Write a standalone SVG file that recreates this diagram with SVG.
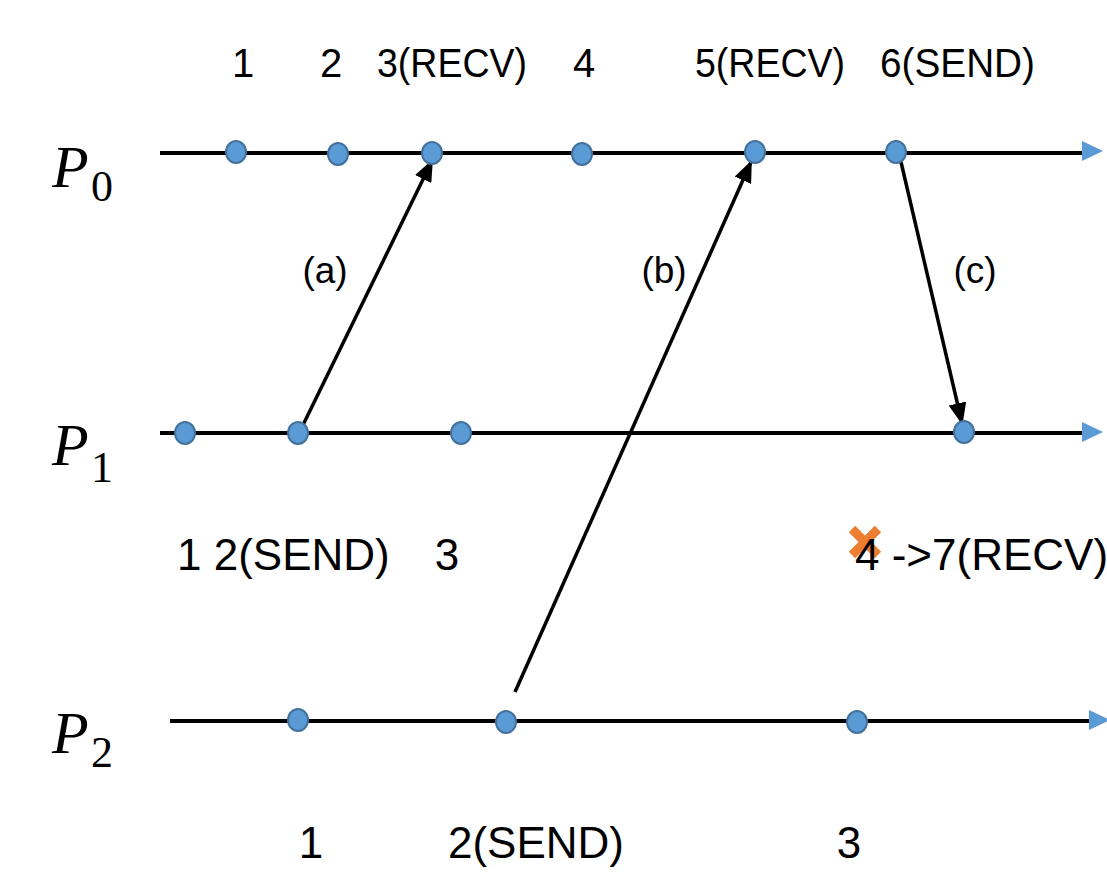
<svg xmlns="http://www.w3.org/2000/svg" width="1107" height="876" viewBox="0 0 1107 876">
<style>
.tl{stroke:#000;stroke-width:4;fill:none}
.dot{fill:#5B9BD5;stroke:#41719C;stroke-width:2}
.msg{stroke:#000;stroke-width:3.5;fill:none;marker-end:url(#ah)}
.t{font-family:"Liberation Sans","Open Sans",sans-serif;font-size:40px;fill:#000}
.t2{font-family:"Liberation Sans","Open Sans",sans-serif;font-size:44px;fill:#000}
.lb{font-family:"Liberation Sans","Open Sans",sans-serif;font-size:37px;fill:#000;text-anchor:middle}
.p{font-family:"Liberation Serif","DejaVu Serif",serif;font-style:italic;font-size:60px;fill:#000}
.s{font-family:"Liberation Serif","DejaVu Serif",serif;font-size:44px;fill:#000}
.bt{fill:#5B9BD5}
</style>
<defs>
<marker id="ah" viewBox="0 0 22 18" refX="20" refY="9" markerWidth="22" markerHeight="18" orient="auto" markerUnits="userSpaceOnUse">
<path d="M0,0 L22,9 L0,18 z" fill="#000"/>
</marker>
<linearGradient id="fade" x1="0" x2="1" y1="0" y2="0">
<stop offset="0" stop-color="#5B9BD5" stop-opacity="0"/>
<stop offset="1" stop-color="#5B9BD5"/>
</linearGradient>
</defs>
<g id="timelines">
<line class="tl" x1="160" y1="153" x2="1090" y2="153"/>
<line x1="1050" y1="152" x2="1090" y2="152" stroke="url(#fade)" stroke-width="3"/>
<path class="bt" d="M1082,141 L1103,151 L1082,161 z"/>
<line class="tl" x1="160" y1="433" x2="1090" y2="433"/>
<line x1="1050" y1="432" x2="1090" y2="432" stroke="url(#fade)" stroke-width="3"/>
<path class="bt" d="M1082,422 L1103,432 L1082,442 z"/>
<line class="tl" x1="170" y1="721" x2="1095" y2="721"/>
<line x1="1055" y1="720" x2="1095" y2="720" stroke="url(#fade)" stroke-width="3"/>
<path class="bt" d="M1089,710 L1110,720 L1089,730 z"/>
</g>
<g id="P0">
<text class="p" x="52" y="187">P</text><text class="s" x="91" y="201">0</text>
</g>
<g id="P1">
<text class="p" x="52" y="465">P</text><text class="s" x="91" y="482">1</text>
</g>
<g id="P2">
<text class="p" x="52" y="753">P</text><text class="s" x="91" y="767">2</text>
</g>
<g id="connectors">
<line class="msg" x1="303" y1="425" x2="432" y2="161"/>
<line class="msg" x1="515" y1="692" x2="751" y2="162"/>
<line class="msg" x1="901" y1="162" x2="962" y2="423"/>
<text class="lb" x="325" y="283">(a)</text>
<text class="lb" x="664" y="283">(b)</text>
<text class="lb" x="975" y="283">(c)</text>
</g>
<g id="p0-events">
<ellipse class="dot" cx="236" cy="152" rx="10" ry="11"/>
<ellipse class="dot" cx="338" cy="154" rx="10" ry="11"/>
<ellipse class="dot" cx="432" cy="153" rx="10" ry="11"/>
<ellipse class="dot" cx="582" cy="154" rx="10" ry="11"/>
<ellipse class="dot" cx="755" cy="152" rx="10" ry="11"/>
<ellipse class="dot" cx="896" cy="152" rx="10" ry="11"/>
<text class="t" x="243" y="77" text-anchor="middle">1</text>
<text class="t" x="331" y="77" text-anchor="middle">2</text>
<text class="t" x="377" y="77" textLength="150" lengthAdjust="spacingAndGlyphs">3(RECV)</text>
<text class="t" x="584" y="77" text-anchor="middle">4</text>
<text class="t" x="695" y="77" textLength="150" lengthAdjust="spacingAndGlyphs">5(RECV)</text>
<text class="t" x="880" y="77" textLength="155" lengthAdjust="spacingAndGlyphs">6(SEND)</text>
</g>
<g id="p1-events">
<ellipse class="dot" cx="185" cy="433" rx="10" ry="11"/>
<ellipse class="dot" cx="298" cy="433" rx="10" ry="11"/>
<ellipse class="dot" cx="461" cy="433" rx="10" ry="11"/>
<ellipse class="dot" cx="964" cy="432" rx="10" ry="11"/>
<text class="t2" x="177" y="570">1 2(SEND)</text>
<text class="t2" x="447" y="570" text-anchor="middle">3</text>
<path d="M852,529 L878,555 M878,529 L852,555" stroke="#ED7D31" stroke-width="9"/>
<text class="t2" x="855" y="570">4 -&gt;7(RECV)</text>
</g>
<g id="p2-events">
<ellipse class="dot" cx="298" cy="720" rx="10" ry="11"/>
<ellipse class="dot" cx="506" cy="722" rx="10" ry="11"/>
<ellipse class="dot" cx="857" cy="722" rx="10" ry="11"/>
<text class="t2" x="311" y="858" text-anchor="middle">1</text>
<text class="t2" x="536" y="858" text-anchor="middle">2(SEND)</text>
<text class="t2" x="849" y="858" text-anchor="middle">3</text>
</g>
</svg>
